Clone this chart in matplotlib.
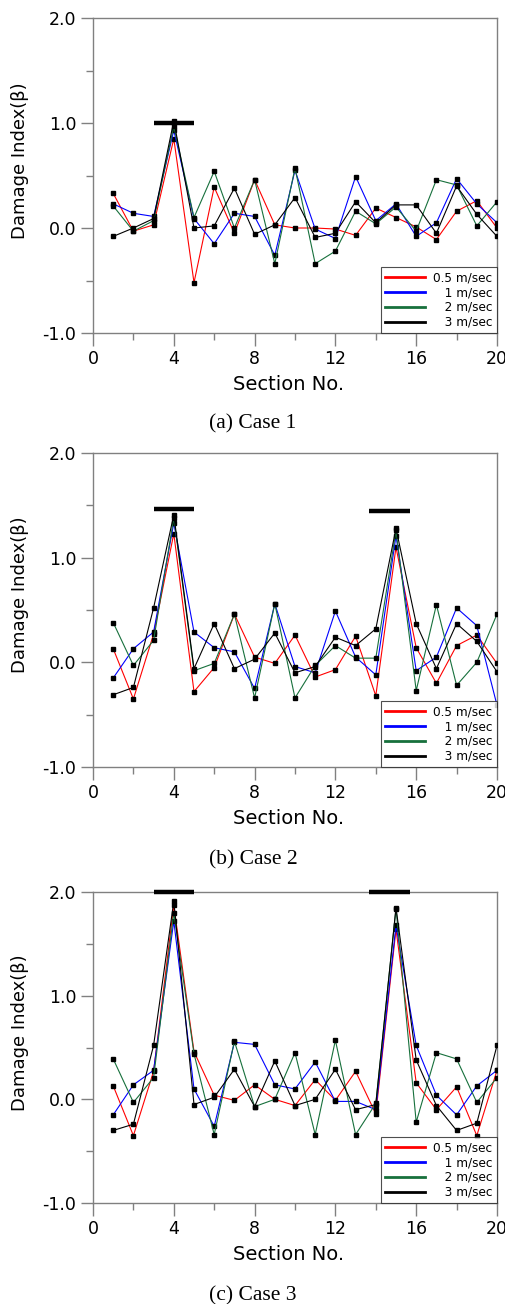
import matplotlib
matplotlib.use("Agg")
import matplotlib.pyplot as plt
from matplotlib.ticker import MultipleLocator, FormatStrFormatter

sections = list(range(1, 21))
labels = ["0.5 m/sec", "   1 m/sec", "   2 m/sec", "   3 m/sec"]
colors = ["#ff0000", "#0000ff", "#17703c", "#000000"]

# Case 1
c1_05 = [0.33, -0.03, 0.03, 0.85, -0.52, 0.39, -0.05, 0.46, 0.03, 0.00,
         0.00, -0.01, -0.07, 0.19, 0.10, 0.01, -0.11, 0.16, 0.26, 0.00]
c1_1 = [0.23, 0.14, 0.11, 0.93, 0.09, -0.15, 0.14, 0.11, -0.26, 0.55,
        -0.01, -0.10, 0.49, 0.07, 0.23, -0.08, 0.05, 0.47, 0.23, 0.05]
c1_2 = [0.21, -0.03, 0.07, 0.97, 0.10, 0.54, 0.00, 0.46, -0.34, 0.57,
        -0.34, -0.22, 0.16, 0.04, 0.20, -0.03, 0.46, 0.41, 0.02, 0.25]
c1_3 = [-0.08, 0.00, 0.09, 1.02, 0.00, 0.02, 0.38, -0.06, 0.03, 0.29,
        -0.09, -0.05, 0.25, 0.05, 0.22, 0.22, -0.05, 0.40, 0.13, -0.08]

# Case 2
c2_05 = [0.13, -0.35, 0.27, 1.23, -0.28, -0.05, 0.46, 0.05, -0.01, 0.26,
         -0.14, -0.07, 0.25, -0.32, 1.10, 0.14, -0.20, 0.16, 0.26, -0.01]
c2_1 = [-0.15, 0.13, 0.29, 1.33, 0.29, 0.14, 0.10, -0.25, 0.56, -0.04,
        -0.10, 0.49, 0.05, -0.12, 1.21, -0.08, 0.05, 0.52, 0.35, -0.41]
c2_2 = [0.38, -0.03, 0.21, 1.38, -0.08, -0.01, 0.46, -0.34, 0.56, -0.34,
        -0.03, 0.16, 0.04, 0.04, 1.26, -0.27, 0.55, -0.22, 0.00, 0.46]
c2_3 = [-0.31, -0.24, 0.52, 1.41, -0.06, 0.37, -0.06, 0.03, 0.28, -0.10,
        -0.04, 0.24, 0.16, 0.32, 1.28, 0.37, -0.06, 0.37, 0.20, -0.09]

# Case 3
c3_05 = [0.13, -0.35, 0.27, 1.87, 0.46, 0.04, -0.01, 0.14, 0.00, -0.06,
         0.19, -0.01, 0.27, -0.14, 1.64, 0.16, -0.10, 0.12, -0.35, 0.28]
c3_1 = [-0.15, 0.14, 0.28, 1.72, 0.10, -0.26, 0.55, 0.53, 0.14, 0.10,
        0.36, -0.02, -0.02, -0.10, 1.68, 0.52, 0.04, -0.15, 0.13, 0.28]
c3_2 = [0.39, -0.03, 0.21, 1.80, 0.44, -0.34, 0.56, -0.07, 0.00, 0.45,
        -0.34, 0.57, -0.34, -0.04, 1.84, -0.22, 0.45, 0.39, -0.03, 0.21]
c3_3 = [-0.30, -0.24, 0.52, 1.91, -0.05, 0.02, 0.29, -0.07, 0.37, -0.06,
        0.00, 0.29, -0.10, -0.05, 1.85, 0.38, -0.06, -0.30, -0.23, 0.52]

cases = [
    ([c1_05, c1_1, c1_2, c1_3], [(3, 5, 1.0)], "(a) Case 1"),
    ([c2_05, c2_1, c2_2, c2_3], [(3, 5, 1.465), (13.65, 15.7, 1.446)], "(b) Case 2"),
    ([c3_05, c3_1, c3_2, c3_3], [(3, 5, 2.0), (13.65, 15.7, 2.0)], "(c) Case 3"),
]

W, H = 506, 1304
fig = plt.figure(figsize=(W / 100, H / 100), dpi=100)
fig.patch.set_facecolor("white")

panels = [(18, 333), (453, 767), (892, 1203)]
captions_y = [428, 864, 1300]
gray = "#808080"

for (series, bars, cap), (top, bot), cy in zip(cases, panels, captions_y):
    hgt = bot - top
    ax = fig.add_axes([93 / W, 1 - bot / H, 404 / W, hgt / H])
    for vals, lab, col in zip(series, labels, colors):
        ax.plot(sections, vals, color=col, lw=0.8, label=lab,
                marker="s", ms=2.2, mfc="black", mec="black", zorder=3)
    for x0, x1, yb in bars:
        ax.plot([x0, x1], [yb, yb], color="black", lw=3.2, solid_capstyle="butt",
                clip_on=False, zorder=4)
    ax.set_xlim(0, 20)
    ax.set_ylim(-1.0, 2.0)
    ax.xaxis.set_major_locator(MultipleLocator(4))
    ax.xaxis.set_minor_locator(MultipleLocator(2))
    ax.yaxis.set_major_locator(MultipleLocator(1.0))
    ax.yaxis.set_minor_locator(MultipleLocator(0.5))
    ax.yaxis.set_major_formatter(FormatStrFormatter("%.1f"))
    ax.tick_params(axis="both", which="major", direction="out", length=9, width=1,
                   color=gray, labelsize=12.5, pad=3)
    ax.tick_params(axis="both", which="minor", direction="out", length=5, width=1,
                   color=gray)
    for s in ax.spines.values():
        s.set_color(gray)
        s.set_linewidth(1.0)
    ax.set_xlabel("Section No.", fontsize=14)
    ax.xaxis.set_label_coords(0.485, -57 / hgt)
    ax.xaxis.label.set_va("baseline")
    ax.set_ylabel("Damage Index(β)", fontsize=13)
    ax.yaxis.set_label_coords(-0.181, 0.548)
    ax.yaxis.label.set_va("center")
    leg = ax.legend(loc="lower right", fontsize=8.7, frameon=True, fancybox=False,
                    borderaxespad=0, handlelength=3.3, handletextpad=0.7,
                    labelspacing=0.15, borderpad=0.35, edgecolor="#222222")
    leg.get_frame().set_linewidth(0.8)
    for h in leg.get_lines():
        h.set_linewidth(2.0)
        h.set_marker("")
    fig.text(0.5, 1 - cy / H, cap, ha="center", va="baseline",
             fontsize=15.5, family="Liberation Serif")

fig.savefig("out.png", dpi=100, facecolor="white")
